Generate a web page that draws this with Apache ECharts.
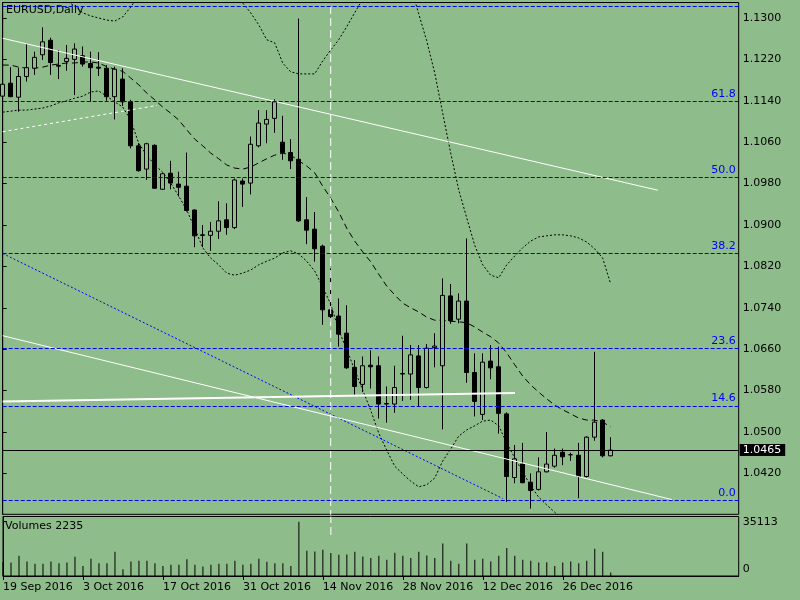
<!DOCTYPE html>
<html>
<head>
<meta charset="utf-8">
<title>EURUSD,Daily</title>
<script src="https://cdn.jsdelivr.net/npm/echarts@6/dist/echarts.min.js"></script>
<style>
  html, body { margin: 0; padding: 0; background: #8fbc8b; }
  #chart { width: 800px; height: 600px; }
</style>
</head>
<body>
<div id="chart"></div>
<script>
// trading days shown on the chart
const dates = [
  '19 Sep 2016', '20 Sep 2016', '21 Sep 2016', '22 Sep 2016', '23 Sep 2016',
  '26 Sep 2016', '27 Sep 2016', '28 Sep 2016', '29 Sep 2016', '30 Sep 2016',
  '3 Oct 2016', '4 Oct 2016', '5 Oct 2016', '6 Oct 2016', '7 Oct 2016',
  '10 Oct 2016', '11 Oct 2016', '12 Oct 2016', '13 Oct 2016', '14 Oct 2016',
  '17 Oct 2016', '18 Oct 2016', '19 Oct 2016', '20 Oct 2016', '21 Oct 2016',
  '24 Oct 2016', '25 Oct 2016', '26 Oct 2016', '27 Oct 2016', '28 Oct 2016',
  '31 Oct 2016', '1 Nov 2016', '2 Nov 2016', '3 Nov 2016', '4 Nov 2016',
  '7 Nov 2016', '8 Nov 2016', '9 Nov 2016', '10 Nov 2016', '11 Nov 2016',
  '14 Nov 2016', '15 Nov 2016', '16 Nov 2016', '17 Nov 2016', '18 Nov 2016',
  '21 Nov 2016', '22 Nov 2016', '23 Nov 2016', '24 Nov 2016', '25 Nov 2016',
  '28 Nov 2016', '29 Nov 2016', '30 Nov 2016', '1 Dec 2016', '2 Dec 2016',
  '5 Dec 2016', '6 Dec 2016', '7 Dec 2016', '8 Dec 2016', '9 Dec 2016',
  '12 Dec 2016', '13 Dec 2016', '14 Dec 2016', '15 Dec 2016', '16 Dec 2016',
  '19 Dec 2016', '20 Dec 2016', '21 Dec 2016', '22 Dec 2016', '23 Dec 2016',
  '26 Dec 2016', '27 Dec 2016', '28 Dec 2016', '29 Dec 2016', '30 Dec 2016',
  '2 Jan 2017', '3 Jan 2017'
];

// [open, high, low, close]
const ohlc = [
  [1.1149, 1.1180, 1.1140, 1.1172], [1.1174, 1.1205, 1.1147, 1.1148], [1.1147, 1.1204, 1.1119, 1.1187],
  [1.1187, 1.1250, 1.1177, 1.1204], [1.1203, 1.1235, 1.1190, 1.1224], [1.1229, 1.1282, 1.1219, 1.1254],
  [1.1257, 1.1262, 1.1190, 1.1214], [1.1208, 1.1238, 1.1182, 1.1207], [1.1216, 1.1248, 1.1198, 1.1222],
  [1.1220, 1.1251, 1.1151, 1.1240], [1.1227, 1.1245, 1.1206, 1.1211], [1.1212, 1.1235, 1.1138, 1.1204],
  [1.1205, 1.1234, 1.1188, 1.1203], [1.1203, 1.1209, 1.1140, 1.1148], [1.1148, 1.1206, 1.1104, 1.1201],
  [1.1182, 1.1203, 1.1130, 1.1138], [1.1138, 1.1142, 1.1048, 1.1053], [1.1053, 1.1058, 1.1003, 1.1005],
  [1.1008, 1.1059, 1.0987, 1.1057], [1.1054, 1.1056, 1.0970, 1.0971], [1.0969, 1.1001, 1.0968, 1.0999],
  [1.1000, 1.1024, 1.0969, 1.0981], [1.0979, 1.1003, 1.0955, 1.0973], [1.0975, 1.1040, 1.0926, 1.0928],
  [1.0929, 1.0930, 1.0857, 1.0879], [1.0881, 1.0900, 1.0857, 1.0880], [1.0880, 1.0906, 1.0850, 1.0888],
  [1.0888, 1.0946, 1.0873, 1.0908], [1.0910, 1.0942, 1.0881, 1.0895], [1.0895, 1.0990, 1.0892, 1.0987],
  [1.0985, 1.0990, 1.0935, 1.0979], [1.0981, 1.1071, 1.0959, 1.1056], [1.1053, 1.1122, 1.1050, 1.1097],
  [1.1095, 1.1122, 1.1058, 1.1104], [1.1106, 1.1143, 1.1078, 1.1138], [1.1060, 1.1111, 1.1026, 1.1040],
  [1.1040, 1.1066, 1.1008, 1.1024], [1.1027, 1.1299, 1.0906, 1.0908], [1.0910, 1.0954, 1.0863, 1.0890],
  [1.0892, 1.0925, 1.0829, 1.0854], [1.0859, 1.0862, 1.0707, 1.0736], [1.0736, 1.0816, 1.0713, 1.0723],
  [1.0724, 1.0758, 1.0665, 1.0689], [1.0691, 1.0745, 1.0622, 1.0624], [1.0625, 1.0639, 1.0572, 1.0588],
  [1.0592, 1.0646, 1.0577, 1.0628], [1.0629, 1.0658, 1.0584, 1.0626], [1.0628, 1.0646, 1.0526, 1.0554],
  [1.0554, 1.0588, 1.0518, 1.0555], [1.0554, 1.0628, 1.0537, 1.0586], [1.0612, 1.0686, 1.0560, 1.0613],
  [1.0612, 1.0668, 1.0562, 1.0649], [1.0647, 1.0668, 1.0550, 1.0586], [1.0586, 1.0670, 1.0584, 1.0662],
  [1.0663, 1.0691, 1.0625, 1.0666], [1.0628, 1.0797, 1.0505, 1.0764], [1.0763, 1.0786, 1.0709, 1.0715],
  [1.0718, 1.0768, 1.0710, 1.0753], [1.0753, 1.0874, 1.0595, 1.0615], [1.0615, 1.0652, 1.0530, 1.0559],
  [1.0534, 1.0652, 1.0523, 1.0635], [1.0637, 1.0668, 1.0602, 1.0624], [1.0626, 1.0665, 1.0497, 1.0536],
  [1.0535, 1.0538, 1.0365, 1.0414], [1.0412, 1.0475, 1.0401, 1.0448], [1.0438, 1.0479, 1.0401, 1.0402],
  [1.0403, 1.0420, 1.0352, 1.0387], [1.0389, 1.0451, 1.0387, 1.0423], [1.0423, 1.0500, 1.0422, 1.0438],
  [1.0434, 1.0468, 1.0431, 1.0455], [1.0461, 1.0468, 1.0436, 1.0452], [1.0456, 1.0460, 1.0444, 1.0456],
  [1.0455, 1.0479, 1.0372, 1.0414], [1.0414, 1.0492, 1.0412, 1.0490], [1.0490, 1.0655, 1.0483, 1.0519],
  [1.0523, 1.0525, 1.0451, 1.0454], [1.0454, 1.0490, 1.0453, 1.0465]
];

const volumes = [
  9000, 8720, 13090, 9380, 7850, 7850, 9380, 8290, 8720, 12430,
  6540, 11120, 8290, 8290, 15700, 4360, 9380, 9810, 9810, 8290,
  6540, 7200, 7200, 10900, 7200, 6110, 7200, 7850, 7850, 9810,
  7200, 7850, 11120, 9160, 8290, 8290, 6540, 35113, 16360, 15920,
  17010, 14830, 13740, 13960, 15700, 12650, 11560, 13090, 10470, 15050,
  13090, 11560, 15700, 13300, 11560, 20940, 9810, 7850, 20940, 10470,
  11120, 9380, 13090, 18100, 13090, 10470, 9810, 8720, 8940, 6540,
  8720, 9380, 8290, 9810, 17670, 15700, 2235
];

// Bollinger bands as drawn
const bbUpper = [
  1.1358, 1.1362, 1.1362, 1.1358, 1.1354, 1.1350, 1.1344, 1.1339, 1.1333, 1.1323,
  1.1310, 1.1304, 1.1300, 1.1296, 1.1294, 1.1302, 1.1321, 1.1344, 1.1364, 1.1377,
  1.1389, 1.1397, 1.1401, 1.1401, 1.1397, 1.1393, 1.1387, 1.1377, 1.1364, 1.1346,
  1.1329, 1.1310, 1.1287, 1.1258, 1.1252, 1.1213, 1.1196, 1.1192, 1.1192, 1.1192,
  1.1217, 1.1238, 1.1258, 1.1283, 1.1310, 1.1337, 1.1358, 1.1377, 1.1389, 1.1393,
  1.1389, 1.1362, 1.1308, 1.1256, 1.1194, 1.1116, 1.1039, 1.0968, 1.0914, 1.0861,
  1.0823, 1.0803, 1.0798, 1.0823, 1.0840, 1.0856, 1.0869, 1.0877, 1.0879, 1.0881,
  1.0881, 1.0879, 1.0875, 1.0867, 1.0854, 1.0836, 1.0786
];
const bbMiddle = [
  1.1209, 1.1209, 1.1205, 1.1203, 1.1203, 1.1205, 1.1209, 1.1211, 1.1213, 1.1213,
  1.1215, 1.1215, 1.1213, 1.1206, 1.1201, 1.1197, 1.1184, 1.1171, 1.1155, 1.1142,
  1.1128, 1.1116, 1.1103, 1.1084, 1.1066, 1.1053, 1.1039, 1.1028, 1.1016, 1.1010,
  1.1008, 1.1012, 1.1020, 1.1028, 1.1035, 1.1039, 1.1035, 1.1024, 1.1014, 1.1001,
  1.0975, 1.0952, 1.0925, 1.0894, 1.0869, 1.0848, 1.0829, 1.0805, 1.0782, 1.0765,
  1.0749, 1.0740, 1.0732, 1.0722, 1.0716, 1.0716, 1.0714, 1.0713, 1.0711, 1.0703,
  1.0693, 1.0684, 1.0672, 1.0653, 1.0630, 1.0608, 1.0591, 1.0577, 1.0564, 1.0552,
  1.0543, 1.0535, 1.0527, 1.0523, 1.0523, 1.0519, 1.0510
];
const bbLower = [
  1.1118, 1.1120, 1.1122, 1.1122, 1.1124, 1.1126, 1.1130, 1.1136, 1.1140, 1.1145,
  1.1149, 1.1157, 1.1159, 1.1149, 1.1138, 1.1128, 1.1103, 1.1058, 1.1035, 1.1016,
  1.1002, 1.0981, 1.0956, 1.0929, 1.0894, 1.0856, 1.0836, 1.0823, 1.0807, 1.0803,
  1.0807, 1.0813, 1.0823, 1.0830, 1.0836, 1.0846, 1.0850, 1.0844, 1.0830, 1.0811,
  1.0780, 1.0747, 1.0697, 1.0659, 1.0620, 1.0581, 1.0542, 1.0498, 1.0465, 1.0434,
  1.0419, 1.0405, 1.0394, 1.0398, 1.0411, 1.0444, 1.0467, 1.0492, 1.0504, 1.0512,
  1.0521, 1.0523, 1.0512, 1.0479, 1.0450, 1.0423, 1.0396, 1.0374, 1.0359, 1.0345,
  1.0330, 1.0316, 1.0305, 1.0295, 1.0286, 1.0276, 1.0268
];

const priceTicks = [1.0420, 1.0500, 1.0580, 1.0660, 1.0740, 1.0820, 1.0900, 1.0980, 1.1060, 1.1140, 1.1220, 1.1300];
const volumeTicks = [0, 35113];

const fibLevels = ['76.4', '61.8', '50.0', '38.2', '23.6', '14.6', '0.0'];
const fibPrices = [1.1322, 1.1139, 1.0992, 1.0845, 1.0662, 1.0550, 1.0368];
const lastPrice = 1.0465;

// drawn objects: [bar position, price]
const trendUpper = [[0, 1.12608], [81.9, 1.09672]];
const trendShort = [[0, 1.10803], [19.3, 1.11311]];
const trendBlue = [[0, 1.08449], [62.5, 1.03715]];
const trendLower = [[0, 1.06861], [83.66, 1.03694]];
const levelThick = [[0, 1.05589], [64.04, 1.05754]];
const vLineBar = 41;

const SLOTS = 93;
const cats = dates.concat(new Array(SLOTS - dates.length).fill(''));
const FONT = 'DejaVu Sans';
const BG = '#8fbc8b';
const Y_MIN = 1.034095, Y_MAX = 1.132995;
const VOL_MAX = 38476;

const showDate = (idx) => idx % 10 === 0 && idx <= 70;

const chart = echarts.init(document.getElementById('chart'));

const fibMarks = fibPrices.map((p, i) => ({
  yAxis: p,
  lineStyle: { color: '#0000ff', type: [4, 2], width: 1 },
  label: {
    show: fibLevels[i] !== '76.4',
    position: 'insideEndTop',
    formatter: fibLevels[i],
    color: '#0000ff',
    fontFamily: FONT,
    fontSize: 11,
    distance: [3, 2]
  }
}));

const objLine = (data, color, type, width) => ({
  type: 'line',
  xAxisIndex: 1,
  yAxisIndex: 0,
  data,
  showSymbol: false,
  silent: true,
  z: 5,
  lineStyle: { color, type, width }
});

const bandLine = (data, type) => ({
  type: 'line',
  xAxisIndex: 0,
  yAxisIndex: 0,
  data,
  showSymbol: false,
  silent: true,
  z: 1,
  lineStyle: { color: '#000', type, width: 1 }
});

chart.setOption({
  animation: false,
  backgroundColor: BG,
  title: [
    { text: 'EURUSD,Daily', left: 6, top: 5, padding: 0,
      textStyle: { fontFamily: FONT, fontSize: 11, fontWeight: 'normal', color: '#000' } },
    { text: 'Volumes 2235', left: 5, top: 521, padding: 0,
      textStyle: { fontFamily: FONT, fontSize: 11, fontWeight: 'normal', color: '#000' } }
  ],
  grid: [
    { left: 2.7, right: 61.3, top: 2.5, bottom: 85.7, show: true, borderColor: '#000', borderWidth: 1 },
    { left: 2.7, right: 61.3, top: 516.5, bottom: 24, show: true, borderColor: '#000', borderWidth: 1 }
  ],
  xAxis: [
    { type: 'category', gridIndex: 0, data: cats, boundaryGap: false, show: false },
    { type: 'value', gridIndex: 0, min: 0, max: SLOTS - 1, show: false },
    {
      type: 'category', gridIndex: 1, data: cats, boundaryGap: false,
      axisLine: { show: true, lineStyle: { color: '#000' } },
      axisTick: { show: true, interval: showDate, length: 4, lineStyle: { color: '#000' } },
      axisLabel: {
        interval: showDate, align: 'left', margin: 6,
        fontFamily: FONT, fontSize: 11, color: '#000'
      },
      splitLine: { show: false }
    },
    { type: 'value', gridIndex: 1, min: 0, max: SLOTS - 1, show: false }
  ],
  yAxis: [
    {
      type: 'value', gridIndex: 0, position: 'right', min: Y_MIN, max: Y_MAX,
      splitLine: { show: false },
      axisLine: { show: true, lineStyle: { color: '#000' } },
      axisTick: { show: true, length: 4, customValues: priceTicks, lineStyle: { color: '#000' } },
      axisLabel: {
        customValues: priceTicks, margin: 4,
        formatter: (v) => v.toFixed(4),
        fontFamily: FONT, fontSize: 11, color: '#000'
      }
    },
    {
      type: 'value', gridIndex: 1, position: 'right', min: 0, max: VOL_MAX,
      splitLine: { show: false },
      axisLine: { show: true, lineStyle: { color: '#000' } },
      axisTick: { show: true, length: 4, customValues: volumeTicks, lineStyle: { color: '#000' } },
      axisLabel: {
        customValues: volumeTicks, margin: 4,
        formatter: (v) => (v === 0 ? '{z|0}' : String(v)),
        rich: { z: { padding: [0, 0, 13, 0], fontFamily: FONT, fontSize: 11, color: '#000' } },
        fontFamily: FONT, fontSize: 11, color: '#000'
      }
    }
  ],
  series: [
    bandLine(bbUpper, [2, 2]),
    bandLine(bbLower, [2, 2]),
    bandLine(bbMiddle, [6, 4]),
    {
      type: 'candlestick',
      xAxisIndex: 0,
      yAxisIndex: 0,
      barWidth: 5,
      z: 3,
      data: ohlc.map(([o, h, l, c]) => [o, c, l, h]),
      itemStyle: {
        color: BG, color0: '#000',
        borderColor: '#000', borderColor0: '#000', borderWidth: 1
      },
      markLine: {
        symbol: 'none',
        silent: true,
        precision: 5,
        z: 6,
        data: fibMarks.concat([{
          yAxis: lastPrice,
          lineStyle: { color: '#000', type: 'solid', width: 1 },
          label: {
            show: true, position: 'end', formatter: lastPrice.toFixed(4),
            backgroundColor: '#000', color: '#fff', padding: [1, 4, 0, 3],
            distance: 1, fontFamily: FONT, fontSize: 11
          }
        }])
      }
    },
    objLine(trendUpper, '#fff', 'solid', 1),
    objLine(trendShort, '#fff', [3, 3], 1),
    objLine(trendBlue, '#0000ff', [2, 2], 1),
    objLine(trendLower, '#fff', 'solid', 1),
    objLine(levelThick, '#fff', 'solid', 2),
    objLine([[vLineBar, Y_MIN - 0.01], [vLineBar, Y_MAX + 0.01]], '#fff', [8, 4], 1),
    {
      type: 'line',
      xAxisIndex: 3,
      yAxisIndex: 1,
      data: [[vLineBar, 26500], [vLineBar, VOL_MAX]],
      showSymbol: false,
      silent: true,
      z: 5,
      lineStyle: { color: '#fff', type: [8, 4], width: 1 }
    },
    {
      type: 'bar',
      xAxisIndex: 2,
      yAxisIndex: 1,
      data: volumes,
      barWidth: 1,
      itemStyle: { color: '#000' }
    }
  ]
});
</script>
</body>
</html>
